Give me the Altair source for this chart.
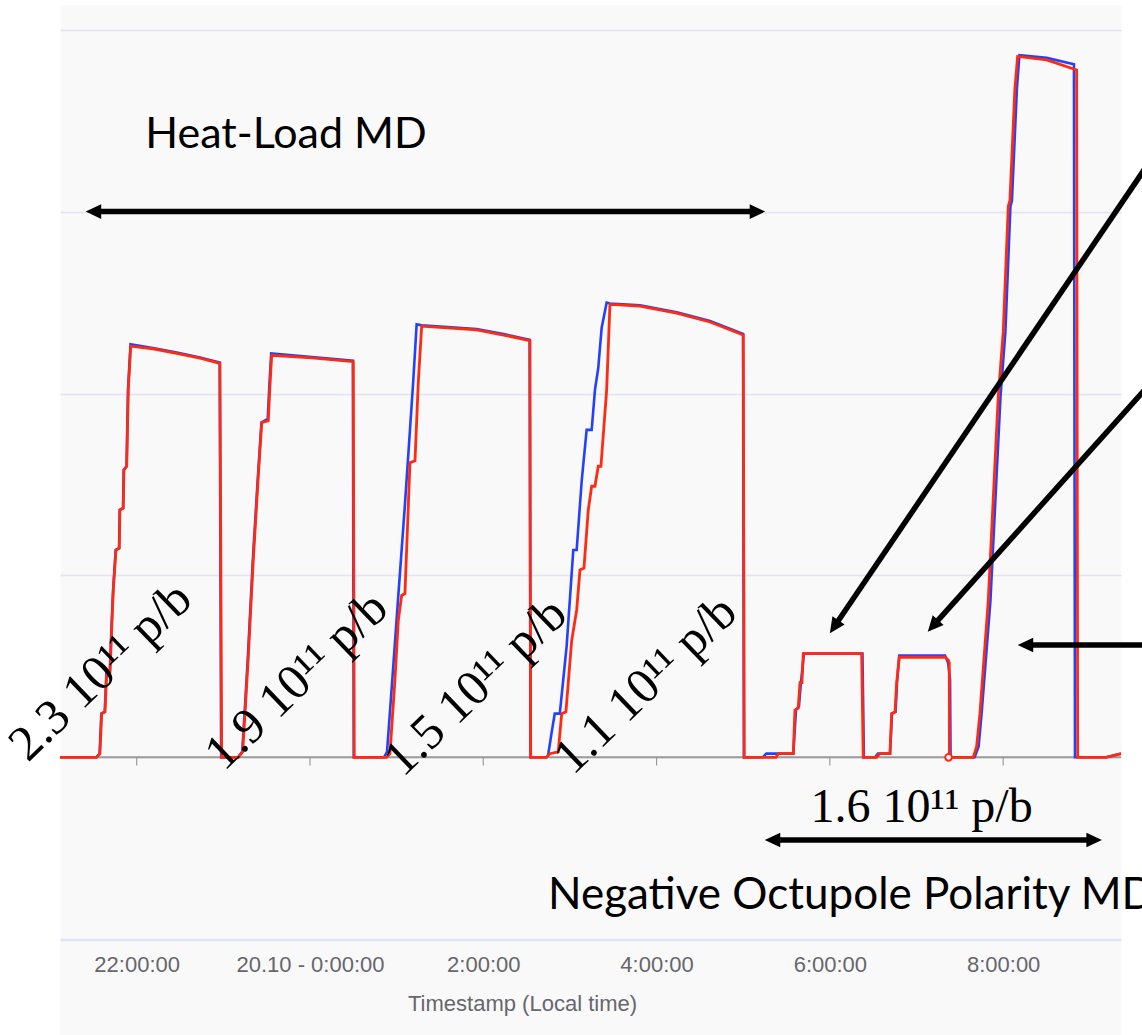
import altair as alt
import pandas as pd

# ---------------- data (time in hours from 19.10 00:00; intensity in grid units) ----------------
blue_h = [21.115, 21.535, 21.572, 21.592, 21.632, 21.650, 21.690, 21.708, 21.728, 21.758, 21.797, 21.804,
          21.843, 21.850, 21.883, 21.900, 21.929, 22.188, 22.462, 22.731, 22.958, 22.975,
          23.170, 23.218, 23.245, 23.283, 23.340, 23.396, 23.440, 23.512, 23.532, 23.552, 24.023, 24.495, 24.505,
          24.855, 24.889, 24.946, 25.015, 25.096, 25.154, 25.192, 25.231, 25.289, 25.924, 26.250, 26.535, 26.545,
          26.729, 26.748, 26.787, 26.825, 26.883, 26.962, 27.039, 27.078, 27.136, 27.193, 27.251, 27.289, 27.327,
          27.366, 27.424, 27.462, 27.809, 28.232, 28.617, 28.998, 29.008,
          29.225, 29.267, 29.578, 29.609, 29.643, 29.666, 29.701, 30.376, 30.393,
          30.520, 30.555, 30.694, 30.717, 30.758, 30.775, 30.801, 31.329, 31.364, 31.387, 31.393,
          31.671, 31.717, 31.751, 31.853, 31.969, 32.026, 32.084, 32.101, 32.159, 32.188, 32.502, 32.817, 32.829,
          33.190, 33.360]
blue_v = [0, 0, 0.02, 0.24, 0.25, 0.46, 0.47, 0.70, 0.92, 1.14, 1.15, 1.36,
          1.37, 1.58, 1.60, 2.02, 2.27, 2.25, 2.225, 2.198, 2.17, 0,
          0, 0.03, 0.24, 0.55, 1.08, 1.52, 1.84, 1.86, 2.05, 2.22, 2.20, 2.18, 0,
          0, 0.03, 0.40, 0.86, 1.39, 1.80, 2.07, 2.38, 2.375, 2.355, 2.325, 2.295, 0,
          0, 0.01, 0.13, 0.24, 0.24, 0.61, 1.14, 1.14, 1.52, 1.80, 1.80, 2.02, 2.14,
          2.36, 2.50, 2.495, 2.485, 2.447, 2.398, 2.328, 0,
          0, 0.02, 0.02, 0.26, 0.28, 0.41, 0.57, 0.57, 0,
          0, 0.02, 0.02, 0.24, 0.25, 0.41, 0.56, 0.56, 0.52, 0.43, 0,
          0, 0.06, 0.24, 0.86, 1.98, 2.34, 3.03, 3.06, 3.68, 3.86, 3.845, 3.81, 0,
          0, 0.02]

red_h = [21.115, 21.538, 21.576, 21.596, 21.634, 21.654, 21.692, 21.711, 21.730, 21.761, 21.799, 21.807,
         21.845, 21.853, 21.885, 21.903, 21.931, 22.188, 22.462, 22.731, 22.961, 22.981,
         23.173, 23.223, 23.250, 23.288, 23.345, 23.400, 23.443, 23.519, 23.538, 23.558, 24.023, 24.500, 24.511,
         24.885, 24.923, 24.981, 25.019, 25.058, 25.096, 25.154, 25.212, 25.250, 25.289, 25.924, 26.250, 26.539, 26.547,
         26.729, 26.768, 26.865, 26.905, 26.954, 27.020, 27.078, 27.116, 27.162, 27.212, 27.251, 27.289, 27.327,
         27.358, 27.424, 27.462, 27.809, 28.232, 28.617, 29.001, 29.012,
         29.378, 29.405, 29.578, 29.597, 29.635, 29.655, 29.678, 29.693, 30.367, 30.385,
         30.540, 30.578, 30.694, 30.713, 30.752, 30.771, 30.801, 31.329, 31.367, 31.378, 31.380,
         31.655, 31.694, 31.732, 31.828, 31.943, 32.001, 32.059, 32.078, 32.136, 32.167, 32.502, 32.848, 32.860,
         33.190, 33.360]
red_v = [0, 0, 0.02, 0.24, 0.25, 0.46, 0.47, 0.70, 0.92, 1.14, 1.15, 1.36,
         1.37, 1.58, 1.60, 2.02, 2.26, 2.246, 2.221, 2.195, 2.166, 0,
         0, 0.03, 0.24, 0.55, 1.08, 1.52, 1.84, 1.85, 2.04, 2.21, 2.196, 2.175, 0,
         0, 0.02, 0.43, 0.75, 0.89, 0.90, 1.62, 1.63, 2.06, 2.37, 2.35, 2.32, 2.29, 0,
         0, 0.02, 0.03, 0.24, 0.25, 0.64, 0.81, 1.03, 1.04, 1.36, 1.49, 1.49, 1.60,
         1.60, 2.02, 2.49, 2.48, 2.442, 2.393, 2.322, 0,
         0, 0.02, 0.02, 0.26, 0.27, 0.41, 0.41, 0.57, 0.57, 0,
         0, 0.02, 0.02, 0.24, 0.25, 0.41, 0.55, 0.55, 0.535, 0.52, 0,
         0, 0.06, 0.24, 0.86, 1.98, 2.34, 3.03, 3.06, 3.68, 3.853, 3.834, 3.779, 0,
         0, 0.02]

marker_h = [31.37]
marker_v = [0.0]

tick_hours = [22, 24, 26, 28, 30, 32]
grid_values = [-1, 0, 1, 2, 3, 4]

# annotation texts / positions (data coordinates)
rot_labels = ["2.3 10\u00b9\u00b9 p/b", "1.9 10\u00b9\u00b9 p/b", "1.5 10\u00b9\u00b9 p/b", "1.1 10\u00b9\u00b9 p/b"]
rot_h = [20.746, 23.007, 25.073, 27.035]
rot_v = [-0.031, -0.081, -0.114, -0.103]

md_labels = ["Heat-Load MD", "Negative Octupole Polarity MD"]
md_h = [23.723, 26.747]
md_v = [3.350, -0.834]

pb_label = ["1.6 10\u00b9\u00b9 p/b"]
pb_h = [31.059]
pb_v = [-0.354]

# arrow shafts: start -> end
shaft_h1 = [21.501, 29.338, 33.810, 33.810, 33.810]
shaft_v1 = [3.0, -0.4546, 3.358, 2.114, 0.6174]
shaft_h2 = [29.164, 33.050, 30.050, 31.190, 32.257]
shaft_v2 = [3.0, -0.4546, 0.7174, 0.7224, 0.6174]

# arrow heads
head_h = [21.501, 29.164, 29.338, 33.050, 30.050, 31.190, 32.257]
head_v = [3.0, 3.0, -0.4546, -0.4546, 0.7174, 0.7224, 0.6174]
head_angle = [270, 90, 270, 90, 214, 222, 270]

# ---------------- styles ----------------
X_DOMAIN = [21.115, 33.36]
Y_DOMAIN = [-1.0044, 4.1358]
GRID = "#e1e4f2"
BLUE = "#2340ff"
RED = "#ff2a12"
AX_TXT = "#66666e"
W, H = 1061, 935

x_axis = alt.Axis(
    values=tick_hours,
    labelExpr="datum.value == 24 ? '20.10 - 0:00:00' : (datum.value % 24) + ':00:00'",
    title="Timestamp (Local time)", grid=False, ticks=False, tickSize=0,
    domainColor=GRID, domainWidth=1.5,
    labelFont="Liberation Sans", labelFontSize=22, labelColor=AX_TXT, labelPadding=14,
    titleFont="Liberation Sans", titleFontSize=22, titleColor=AX_TXT, titleFontWeight="normal",
    titlePadding=18, titleX=462, titleAlign="center", zindex=1,
)
y_axis = alt.Axis(values=grid_values, labels=False, ticks=False, domain=False, grid=True,
                  gridColor=GRID, gridWidth=1.5, title=None)


def X(f="h"):
    return alt.X(f"{f}:Q", scale=alt.Scale(domain=X_DOMAIN, nice=False, zero=False), axis=x_axis)


def Y(f="v"):
    return alt.Y(f"{f}:Q", scale=alt.Scale(domain=Y_DOMAIN, nice=False, zero=False), axis=y_axis)


blue_df = pd.DataFrame({"h": blue_h, "v": blue_v, "i": range(len(blue_h))})
red_df = pd.DataFrame({"h": red_h, "v": red_v, "i": range(len(red_h))})

bg_below = alt.Chart(pd.DataFrame({"a": [0]})).mark_rect(color="#f9f9f9").encode(
    x=alt.value(0), x2=alt.value(W), y=alt.value(H), y2=alt.value(H + 95))

zero_line = alt.Chart(pd.DataFrame({"v": [0]})).mark_rule(color="#9a9a9a", strokeWidth=2).encode(y=Y())

ticks = alt.Chart(pd.DataFrame({"h": tick_hours, "v": [0] * 6, "v2": [-0.045] * 6})).mark_rule(
    color="#9a9a9a", strokeWidth=1.2).encode(x=X(), y=Y(), y2="v2:Q")

blue_line = alt.Chart(blue_df).mark_line(color=BLUE, strokeWidth=2.6, strokeJoin="miter").encode(
    x=X(), y=Y(), order="i:Q")
red_line = alt.Chart(red_df).mark_line(color=RED, strokeWidth=2.8, strokeJoin="miter").encode(
    x=X(), y=Y(), order="i:Q")

marker = alt.Chart(pd.DataFrame({"h": marker_h, "v": marker_v})).mark_point(
    filled=True, color="white", stroke=RED, strokeWidth=2, size=45, opacity=1).encode(x=X(), y=Y())

shafts = alt.Chart(pd.DataFrame({"h": shaft_h1, "v": shaft_v1, "h2": shaft_h2, "v2": shaft_v2})).mark_rule(
    color="black", strokeWidth=5.5).encode(x=X(), y=Y(), x2="h2:Q", y2="v2:Q")

heads = alt.Chart(pd.DataFrame({"h": head_h, "v": head_v, "a": head_angle})).mark_point(
    shape="M0,-1L0.95,1L-0.95,1Z", filled=True, color="black", size=240, opacity=1).encode(
    x=X(), y=Y(), angle=alt.Angle("a:Q", scale=None))

rot_text = alt.Chart(pd.DataFrame({"t": rot_labels, "h": rot_h, "v": rot_v})).mark_text(
    angle=316, align="left", baseline="alphabetic", font="Liberation Serif", fontSize=50,
    color="black").encode(x=X(), y=Y(), text="t:N")

md_text_c = alt.Chart(pd.DataFrame({"t": md_labels[:1], "h": md_h[:1], "v": md_v[:1]})).mark_text(
    align="center", baseline="alphabetic", font="Lato", fontSize=43, color="black").encode(
    x=X(), y=Y(), text="t:N")
md_text_l = alt.Chart(pd.DataFrame({"t": md_labels[1:], "h": md_h[1:], "v": md_v[1:]})).mark_text(
    align="left", baseline="alphabetic", font="Lato", fontSize=44, color="black").encode(
    x=X(), y=Y(), text="t:N")

pb_text = alt.Chart(pd.DataFrame({"t": pb_label, "h": pb_h, "v": pb_v})).mark_text(
    align="center", baseline="alphabetic", font="Liberation Serif", fontSize=48, color="black").encode(
    x=X(), y=Y(), text="t:N")

chart = alt.layer(
    bg_below, zero_line, ticks, blue_line, red_line, marker, shafts, heads,
    rot_text, md_text_c, md_text_l, pb_text,
).properties(
    width=W, height=H,
    autosize=alt.AutoSizeParams(type="none"),
    padding={"left": 60, "top": 5, "right": 21, "bottom": 95},
    background="white",
).configure_view(fill="#f9f9f9", stroke="transparent")

chart.save("out.html", embed_options={"renderer": "svg", "actions": False})
